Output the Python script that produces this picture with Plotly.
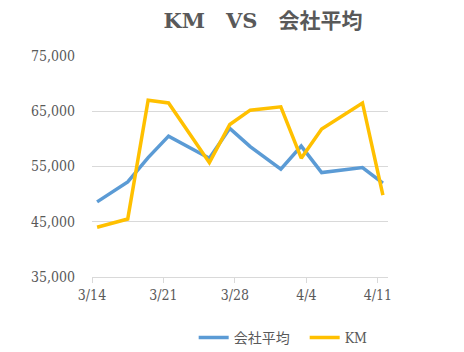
import pandas as pd
import plotly.graph_objects as go

dates = ["2021-03-14", "2021-03-17", "2021-03-19", "2021-03-21", "2021-03-25", "2021-03-27",
         "2021-03-29", "2021-04-01", "2021-04-03", "2021-04-05", "2021-04-09", "2021-04-11"]
company_avg = [48600, 52200, 56600, 60500, 56500, 61900, 58600, 54500, 58700, 53900, 54800, 52000]
km = [44000, 45500, 67000, 66500, 55700, 62600, 65200, 65800, 56500, 61800, 66500, 49800]
tick_dates = ["2021-03-14", "2021-03-21", "2021-03-28", "2021-04-04", "2021-04-11"]
tick_labels = ["3/14", "3/21", "3/28", "4/4", "4/11"]

# Excel date axis: points sit in the middle of each day
x = pd.to_datetime(dates) + pd.Timedelta(hours=12)

FONT = "DejaVu Serif Condensed, Liberation Serif, Noto Sans CJK JP, serif"
TFONT = "DejaVu Serif, Noto Sans CJK JP, serif"
GREY = "#595959"

fig = go.Figure()
fig.add_trace(go.Scatter(x=x, y=company_avg, mode="lines", name="会社平均",
                         line=dict(color="#5B9BD5", width=3.5)))
fig.add_trace(go.Scatter(x=x, y=km, mode="lines", name="KM",
                         line=dict(color="#FFC000", width=3.5)))

fig.update_layout(
    width=464, height=352,
    margin=dict(l=92, r=76, t=56, b=75, autoexpand=False),
    paper_bgcolor="white", plot_bgcolor="white",
    font=dict(family=FONT, color=GREY, size=14),
    title=dict(text="<b>KM　VS　会社平均</b>", x=263/464, xanchor="center",
               y=1 - 21/352, yanchor="middle",
               font=dict(size=21, color=GREY, family=TFONT)),
    showlegend=True,
    legend=dict(orientation="h", x=0.3435, xanchor="left", y=-0.276, yanchor="middle",
                font=dict(size=14, color=GREY, family=FONT), itemwidth=30,
                entrywidth=66, entrywidthmode="pixels", tracegroupgap=0),
    xaxis=dict(range=["2021-03-14", "2021-04-12"], tickmode="array",
               tickvals=pd.to_datetime(tick_dates), ticktext=tick_labels,
               showgrid=False, showline=True, linecolor="#D9D9D9", linewidth=1,
               ticks="outside", ticklen=5, tickcolor="#D9D9D9",
               tickfont=dict(size=14, color=GREY, family=FONT), zeroline=False),
    yaxis=dict(range=[35000, 75000], tickvals=[35000, 45000, 55000, 65000, 75000],
               tickformat=",", showgrid=True, gridcolor="#D9D9D9", gridwidth=1,
               showline=False, zeroline=False, ticks="", ticklabelstandoff=16,
               tickfont=dict(size=14, color=GREY, family=FONT)),
)

fig.write_html("out.html")
